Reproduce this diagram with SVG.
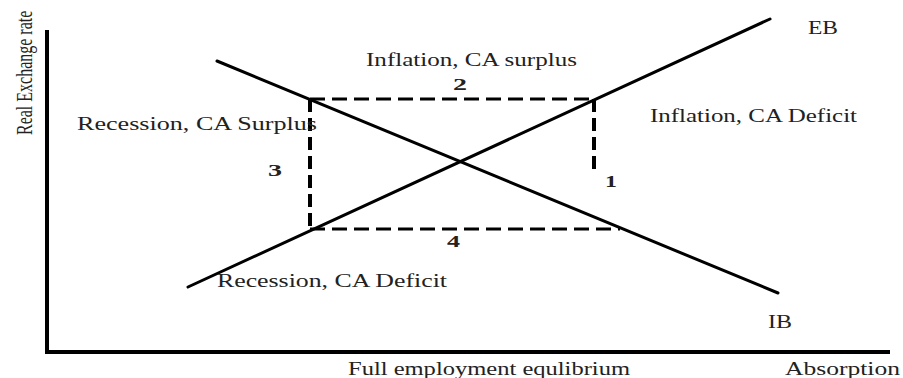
<svg xmlns="http://www.w3.org/2000/svg" width="903" height="378" viewBox="0 0 903 378">
<style>
.axis{stroke:#000;stroke-width:4;fill:none}
.curve{stroke:#000;stroke-width:3;fill:none;stroke-linecap:round}
.dh{stroke:#000;stroke-width:3;stroke-dasharray:15 7;fill:none}
.dv{stroke:#000;stroke-width:4;stroke-dasharray:13 6;fill:none}
.t{font-family:"Liberation Serif","Times New Roman",serif;font-size:18px;fill:#222}
.n{font-family:"Liberation Serif","Times New Roman",serif;font-size:17px;font-weight:bold;fill:#222}
</style>
<rect width="903" height="378" fill="#fff"/>
<g id="axes">
<line class="axis" x1="47" y1="30" x2="47" y2="352"/>
<line class="axis" x1="45" y1="352" x2="890" y2="352"/>
<text class="t" style="font-size:16px" transform="translate(32,135) scale(1.4,1) rotate(-90)">Real Exchange rate</text>
<text class="t" x="348" y="375" textLength="282" lengthAdjust="spacingAndGlyphs">Full employment equlibrium</text>
<text class="t" x="785" y="375" textLength="115" lengthAdjust="spacingAndGlyphs">Absorption</text>
</g>
<g id="IB">
<line class="curve" x1="217" y1="61" x2="778" y2="293"/>
<text class="t" x="768" y="328" textLength="24" lengthAdjust="spacingAndGlyphs">IB</text>
</g>
<g id="EB">
<line class="curve" x1="188" y1="287" x2="770" y2="19"/>
<text class="t" x="808" y="34" textLength="30" lengthAdjust="spacingAndGlyphs">EB</text>
</g>
<g id="connectors">
<line class="dh" x1="310" y1="99" x2="594" y2="99"/>
<line class="dv" x1="310" y1="99" x2="310" y2="229"/>
<line class="dv" x1="594" y1="99" x2="594" y2="170"/>
<line class="dh" x1="310" y1="229" x2="620" y2="229"/>
</g>
<g id="regions">
<text class="t" x="366" y="66" textLength="211" lengthAdjust="spacingAndGlyphs">Inflation, CA surplus</text>
<text class="t" x="77" y="130" textLength="240" lengthAdjust="spacingAndGlyphs">Recession, CA Surplus</text>
<text class="t" x="650" y="122" textLength="207" lengthAdjust="spacingAndGlyphs">Inflation, CA Deficit</text>
<text class="t" x="217" y="287" textLength="230" lengthAdjust="spacingAndGlyphs">Recession, CA Deficit</text>
</g>
<g id="numbers">
<text class="n" x="453" y="90" textLength="14" lengthAdjust="spacingAndGlyphs">2</text>
<text class="n" x="268" y="176" textLength="14" lengthAdjust="spacingAndGlyphs">3</text>
<text class="n" x="605" y="187" textLength="12" lengthAdjust="spacingAndGlyphs">1</text>
<text class="n" x="447" y="247" textLength="13" lengthAdjust="spacingAndGlyphs">4</text>
</g>
</svg>
